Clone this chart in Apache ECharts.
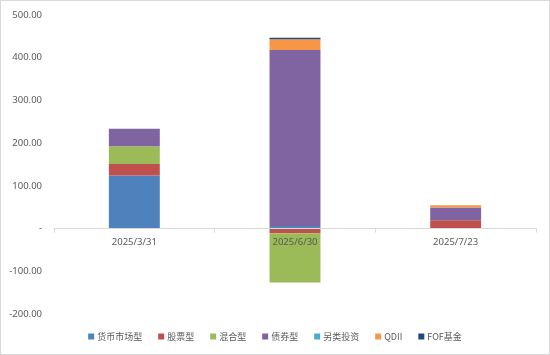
<!DOCTYPE html>
<html>
<head>
<meta charset="utf-8">
<script src="https://cdn.jsdelivr.net/npm/echarts@6/dist/echarts.min.js"></script>
<style>
html,body{margin:0;padding:0;background:#fff;}
#c{width:550px;height:355px;box-sizing:border-box;border:1px solid #d9d9d9;}
</style>
</head>
<body>
<div id="c"></div>
<script>
const categories = ['2025/3/31', '2025/6/30', '2025/7/23'];
const seriesNames = ['货币市场型', '股票型', '混合型', '债券型', '另类投资', 'QDII', 'FOF基金'];
const moneyMarket = [124, 6, 0];
const equity = [27, -11, 19.5];
const hybrid = [42, -115, 0];
const bond = [40.5, 412, 30];
const alternative = [0, 0, 0];
const qdii = [0, 25, 5];
const fof = [0, 4, 0];
const yTicks = [-200, -100, 0, 100, 200, 300, 400, 500];

const values = [moneyMarket, equity, hybrid, bond, alternative, qdii, fof];
const colors = ['#4F81BD', '#C0504D', '#9BBB59', '#8064A2', '#4BACC6', '#F79646', '#1F497D'];

const chart = echarts.init(document.getElementById('c'), null, {renderer: 'canvas'});
chart.setOption({
  animation: false,
  backgroundColor: '#fff',
  color: colors,
  grid: {left: 53, right: 13, top: 14, bottom: 40, containLabel: false},
  legend: {
    data: seriesNames,
    bottom: 8,
    left: 'center',
    itemWidth: 6,
    itemHeight: 6,
    itemGap: 16,
    icon: 'rect',
    textStyle: {color: '#595959', fontSize: 9, fontFamily: 'Noto Sans CJK SC', padding: [0, 0, 0, -2]}
  },
  xAxis: {
    type: 'category',
    data: categories,
    z: 10,
    axisLine: {onZero: true, lineStyle: {color: '#d9d9d9', width: 1}},
    axisTick: {show: true, length: 4, inside: false, lineStyle: {color: '#d9d9d9'}},
    axisLabel: {color: '#595959', fontSize: 9.5, fontFamily: 'Noto Sans', margin: -77}
  },
  yAxis: {
    type: 'value',
    min: yTicks[0],
    max: yTicks[yTicks.length - 1],
    interval: 100,
    axisLine: {show: false},
    axisTick: {show: false},
    splitLine: {show: false},
    axisLabel: {
      color: '#595959', fontSize: 9.5, fontFamily: 'Noto Sans', margin: 12,
      formatter: v => v === 0 ? '-' : v.toFixed(2)
    }
  },
  series: seriesNames.map((n, i) => ({
    name: n,
    type: 'bar',
    stack: 'total',
    data: values[i],
    barWidth: '31.7%',
    itemStyle: {color: colors[i]}
  }))
});
</script>
</body>
</html>
